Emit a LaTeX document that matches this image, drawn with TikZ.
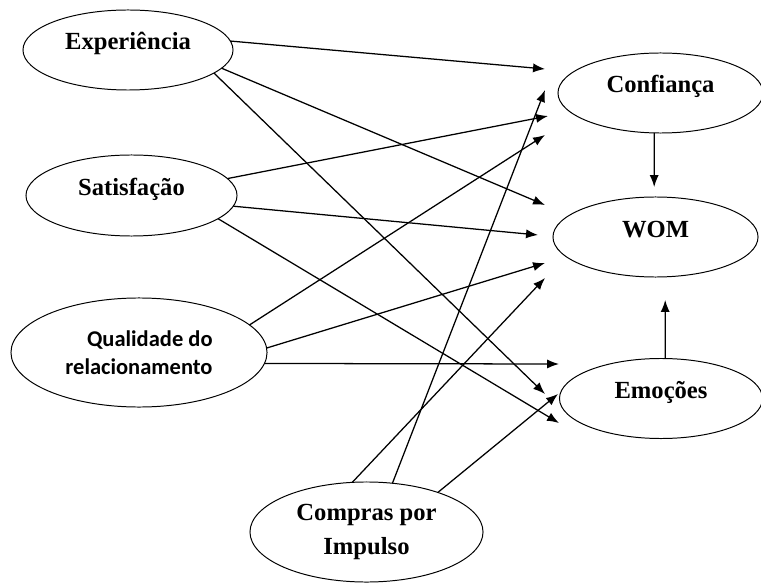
\documentclass[tikz,border=0pt]{standalone}
\usepackage{fontspec}
\setmainfont{Liberation Serif}
\newfontfamily\calibrifont{Carlito}
\usetikzlibrary{shapes.geometric}
\usetikzlibrary{arrows.meta}
\tikzset{
    Var/.style = {ellipse, draw=black, line width=0.7pt, align=center, inner sep=0pt, outer sep=0pt, font=\bfseries\fontsize{17.5}{24}\selectfont}
}
\tikzset{
    Link/.style = {draw=black, line width=0.9pt, -{Latex[length=8.5pt,width=6.5pt]}}
}

\begin{document}
\begin{tikzpicture}[x=0.025cm, y=-0.025cm]
\useasboundingbox (0,0) rectangle (761,583);
\tikzset{
    oneline/.style = {text height=6pt, text depth=6pt},
}
% antecedentes
\node[Var, oneline, minimum width=5.25cm, minimum height=2cm] at (128,50) (exp) {Experiência};
\node[Var, oneline, minimum width=5.275cm, minimum height=2.025cm] at (131.5,195.5) (sat) {Satisfação};
\node[Var, align=right, minimum width=6.4cm, minimum height=2.725cm, font=\calibrifont\bfseries\fontsize{16}{20}\selectfont] at (139,352.5) (qual) {Qualidade do\\relacionamento};
\node[Var, minimum width=5.825cm, minimum height=2.5cm] at (366.5,532) (comp) {Compras por\\Impulso};
% consequentes
\node[Var, oneline, minimum width=5.125cm, minimum height=2cm] at (660.5,93) (conf) {Confiança};
\node[Var, oneline, minimum width=5.125cm, minimum height=2cm] at (655.5,237) (wom) {WOM};
\node[Var, oneline, minimum width=5.075cm, minimum height=2cm] at (661,398.5) (emo) {Emoções};
% pontas das setas
\coordinate (t1) at (545,69);
\coordinate (t2) at (545,205);
\coordinate (t3) at (545,394);
\coordinate (t4) at (548,116);
\coordinate (t5) at (538,235);
\coordinate (t6) at (559,423);
\coordinate (t7) at (545,135);
\coordinate (t8) at (545,263);
\coordinate (t9) at (559,364);
\coordinate (t10) at (545,278);
\coordinate (t11) at (545,90);
\coordinate (t12) at (558,394);
\coordinate (t13) at (654.2,187);
\coordinate (t14) at (665.2,300);
\path (exp.5) edge [Link] (t1);
\path (exp.-11) edge [Link] (t2);
\path (exp.-15) edge [Link] (t3);
\path (sat.10) edge [Link] (t4);
\path (sat.-6) edge [Link] (t5);
\path (sat.-15) edge [Link] (t6);
\path (qual.14) edge [Link] (t7);
\path (qual.2) edge [Link] (t8);
\path (qual.-5) edge [Link] (t9);
\path (comp.106) edge [Link] (t10);
\path (comp.62) edge [Link] (t11);
\path (comp.29) edge [Link] (t12);
\path (conf.-99) edge [Link] (t13);
\path (emo.84) edge [Link] (t14);
\end{tikzpicture}
\end{document}
